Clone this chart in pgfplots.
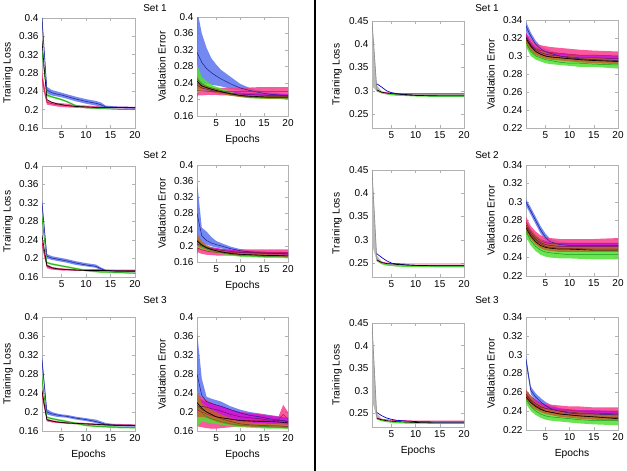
\documentclass[border=0pt]{standalone}
\usepackage{pgfplots}
\pgfplotsset{compat=1.18}
\usepackage{pgfplotstable}
\usepgfplotslibrary{fillbetween}
\usepackage{fontspec}
\setmainfont{Liberation Sans}

\definecolor{cB}{RGB}{90,115,238}\definecolor{cBl}{RGB}{30,30,140}
\definecolor{cG}{RGB}{80,225,50}\definecolor{cGl}{RGB}{30,150,30}
\definecolor{cP}{RGB}{250,60,140}\definecolor{cPl}{RGB}{190,20,60}
\definecolor{cU}{RGB}{200,20,220}\definecolor{cUl}{RGB}{110,10,120}
\definecolor{cR}{RGB}{190,100,40}\definecolor{cRl}{RGB}{110,50,20}

% ---------------- Left: Set 1 training
\pgfplotstableread{
x bm bl bh gm gl gh pm pl ph km
1 0.400 0.390 0.410 0.325 0.318 0.332 0.270 0.255 0.285 0.350
2 0.243 0.236 0.250 0.232 0.229 0.235 0.216 0.211 0.221 0.222
3 0.237 0.231 0.243 0.228 0.226 0.230 0.213 0.209 0.217 0.216
4 0.234 0.229 0.240 0.225 0.223 0.227 0.211 0.207 0.215 0.213
5 0.232 0.227 0.237 0.222 0.220 0.224 0.210 0.206 0.214 0.211
6 0.229 0.224 0.234 0.218 0.216 0.220 0.209 0.205 0.213 0.209
8 0.223 0.218 0.228 0.208 0.206 0.210 0.207 0.204 0.210 0.207
10 0.218 0.213 0.223 0.204 0.203 0.205 0.206 0.203 0.209 0.206
12 0.214 0.209 0.219 0.203 0.202 0.204 0.205 0.203 0.208 0.205
13 0.211 0.206 0.216 0.202 0.201 0.203 0.205 0.203 0.207 0.205
14 0.206 0.203 0.209 0.202 0.201 0.203 0.205 0.203 0.207 0.205
16 0.205 0.203 0.207 0.201 0.200 0.202 0.205 0.203 0.207 0.205
20 0.204 0.202 0.206 0.200 0.199 0.201 0.204 0.202 0.206 0.205
}\LoneT
\pgfplotstableread{
x bm bl bh pm pl ph um ul uh gm gl gh rm rl rh km
1 0.315 0.205 0.420 0.222 0.210 0.245 0.235 0.228 0.242 0.250 0.215 0.285 0.240 0.225 0.255 0.245
2 0.290 0.235 0.360 0.221 0.210 0.235 0.228 0.223 0.233 0.238 0.222 0.255 0.232 0.224 0.240 0.233
3 0.275 0.238 0.325 0.220 0.211 0.230 0.225 0.221 0.229 0.232 0.222 0.245 0.228 0.223 0.233 0.229
4 0.265 0.236 0.300 0.220 0.211 0.229 0.222 0.218 0.226 0.228 0.221 0.236 0.224 0.219 0.229 0.225
5 0.257 0.234 0.285 0.219 0.211 0.228 0.220 0.216 0.224 0.225 0.219 0.231 0.221 0.216 0.226 0.222
6 0.250 0.232 0.272 0.219 0.210 0.228 0.218 0.214 0.222 0.222 0.217 0.227 0.218 0.214 0.222 0.219
8 0.238 0.226 0.255 0.219 0.210 0.228 0.215 0.211 0.219 0.215 0.211 0.219 0.213 0.209 0.217 0.214
10 0.228 0.222 0.238 0.219 0.209 0.229 0.213 0.209 0.217 0.209 0.206 0.212 0.209 0.206 0.212 0.210
12 0.222 0.218 0.228 0.219 0.209 0.229 0.212 0.208 0.216 0.206 0.203 0.209 0.207 0.204 0.210 0.208
14 0.217 0.213 0.222 0.219 0.208 0.230 0.211 0.207 0.215 0.205 0.202 0.208 0.206 0.203 0.209 0.207
16 0.213 0.209 0.218 0.219 0.208 0.230 0.210 0.206 0.214 0.204 0.201 0.207 0.205 0.202 0.208 0.206
18 0.211 0.207 0.215 0.219 0.208 0.230 0.210 0.206 0.214 0.204 0.201 0.207 0.205 0.202 0.208 0.206
20 0.209 0.205 0.213 0.219 0.208 0.230 0.209 0.205 0.213 0.203 0.200 0.206 0.205 0.202 0.208 0.206
}\LoneV
% ---------------- Left: Set 2
\pgfplotstableread{
x bm bl bh gm gl gh pm pl ph km
1 0.320 0.310 0.330 0.290 0.280 0.300 0.235 0.225 0.245 0.250
2 0.205 0.200 0.210 0.191 0.189 0.193 0.183 0.179 0.187 0.185
3 0.201 0.197 0.205 0.188 0.186 0.190 0.179 0.176 0.182 0.180
4 0.199 0.195 0.203 0.186 0.184 0.188 0.177 0.175 0.180 0.178
5 0.197 0.193 0.201 0.184 0.182 0.186 0.176 0.174 0.179 0.177
6 0.195 0.191 0.199 0.182 0.180 0.184 0.176 0.174 0.178 0.176
8 0.190 0.186 0.194 0.178 0.176 0.180 0.175 0.173 0.177 0.175
10 0.186 0.183 0.190 0.174 0.172 0.176 0.175 0.173 0.177 0.174
12 0.183 0.180 0.187 0.172 0.170 0.174 0.175 0.173 0.177 0.174
13 0.178 0.175 0.181 0.171 0.169 0.173 0.175 0.173 0.177 0.174
14 0.174 0.172 0.176 0.171 0.169 0.172 0.174 0.172 0.176 0.174
16 0.173 0.171 0.175 0.170 0.168 0.171 0.174 0.172 0.176 0.173
20 0.172 0.170 0.174 0.168 0.167 0.170 0.174 0.172 0.176 0.173
}\LtwoT
\pgfplotstableread{
x bm bl bh pm pl ph um ul uh gm gl gh rm rl rh km
1 0.280 0.180 0.360 0.195 0.185 0.210 0.205 0.198 0.212 0.210 0.195 0.225 0.215 0.200 0.230 0.212
2 0.225 0.205 0.245 0.190 0.180 0.200 0.200 0.195 0.205 0.200 0.192 0.208 0.203 0.195 0.211 0.202
3 0.213 0.203 0.235 0.187 0.178 0.196 0.196 0.192 0.200 0.193 0.188 0.198 0.196 0.190 0.202 0.195
4 0.207 0.199 0.222 0.185 0.177 0.194 0.193 0.189 0.197 0.189 0.185 0.193 0.191 0.187 0.196 0.191
5 0.203 0.196 0.212 0.184 0.176 0.193 0.191 0.187 0.195 0.185 0.182 0.189 0.188 0.184 0.192 0.188
6 0.200 0.194 0.207 0.184 0.176 0.192 0.189 0.185 0.193 0.183 0.180 0.186 0.186 0.182 0.190 0.185
8 0.193 0.189 0.198 0.183 0.176 0.191 0.186 0.182 0.190 0.179 0.176 0.182 0.182 0.178 0.186 0.181
10 0.188 0.185 0.192 0.183 0.176 0.191 0.184 0.180 0.188 0.176 0.173 0.179 0.179 0.176 0.183 0.179
12 0.185 0.182 0.189 0.183 0.176 0.191 0.183 0.179 0.187 0.175 0.172 0.178 0.178 0.175 0.181 0.178
14 0.183 0.180 0.187 0.183 0.176 0.191 0.182 0.178 0.186 0.174 0.171 0.177 0.177 0.174 0.180 0.177
16 0.182 0.179 0.185 0.183 0.176 0.191 0.181 0.177 0.185 0.173 0.170 0.176 0.176 0.173 0.179 0.176
18 0.181 0.178 0.184 0.183 0.176 0.191 0.181 0.177 0.185 0.173 0.170 0.176 0.176 0.173 0.179 0.176
20 0.180 0.177 0.183 0.183 0.176 0.191 0.180 0.176 0.184 0.172 0.169 0.175 0.175 0.172 0.178 0.175
}\LtwoV
% ---------------- Left: Set 3
\pgfplotstableread{
x bm bl bh gm gl gh pm pl ph km
1 0.310 0.295 0.320 0.270 0.260 0.280 0.240 0.230 0.250 0.245
2 0.200 0.195 0.206 0.189 0.187 0.191 0.183 0.180 0.186 0.184
3 0.196 0.192 0.200 0.186 0.184 0.188 0.181 0.178 0.183 0.181
4 0.194 0.190 0.197 0.184 0.182 0.186 0.179 0.177 0.181 0.179
5 0.192 0.189 0.195 0.182 0.180 0.184 0.178 0.176 0.180 0.178
6 0.191 0.188 0.194 0.180 0.178 0.182 0.177 0.175 0.179 0.177
8 0.187 0.184 0.190 0.176 0.174 0.178 0.176 0.174 0.178 0.176
10 0.184 0.181 0.187 0.172 0.170 0.174 0.175 0.173 0.177 0.175
12 0.180 0.177 0.184 0.170 0.168 0.172 0.174 0.172 0.176 0.174
14 0.174 0.172 0.177 0.169 0.167 0.171 0.173 0.171 0.175 0.173
16 0.172 0.170 0.174 0.168 0.166 0.170 0.173 0.171 0.175 0.172
20 0.171 0.169 0.173 0.167 0.165 0.169 0.172 0.170 0.174 0.172
}\LthreeT
\pgfplotstableread{
x bm bl bh um ul uh pm pl ph gm gl gh rm rl rh km
1 0.280 0.200 0.370 0.210 0.190 0.230 0.205 0.170 0.240 0.210 0.170 0.245 0.215 0.190 0.240 0.220
2 0.235 0.205 0.270 0.212 0.200 0.225 0.200 0.168 0.230 0.198 0.180 0.215 0.205 0.190 0.220 0.208
3 0.222 0.205 0.232 0.210 0.200 0.222 0.196 0.166 0.225 0.190 0.178 0.202 0.200 0.188 0.212 0.200
4 0.218 0.200 0.228 0.207 0.195 0.218 0.192 0.165 0.220 0.186 0.176 0.196 0.195 0.184 0.206 0.195
5 0.215 0.197 0.225 0.205 0.192 0.215 0.190 0.165 0.215 0.183 0.175 0.191 0.190 0.180 0.200 0.190
6 0.212 0.195 0.222 0.202 0.190 0.212 0.188 0.166 0.212 0.180 0.173 0.187 0.186 0.177 0.195 0.188
8 0.205 0.190 0.212 0.195 0.184 0.205 0.185 0.168 0.205 0.175 0.170 0.180 0.180 0.173 0.187 0.185
10 0.198 0.186 0.205 0.190 0.180 0.200 0.183 0.170 0.200 0.172 0.168 0.176 0.175 0.170 0.180 0.182
12 0.193 0.183 0.200 0.188 0.178 0.197 0.182 0.171 0.198 0.171 0.167 0.175 0.173 0.169 0.178 0.181
14 0.190 0.181 0.197 0.186 0.176 0.195 0.182 0.172 0.196 0.170 0.166 0.174 0.172 0.168 0.176 0.180
16 0.186 0.179 0.194 0.183 0.175 0.192 0.183 0.173 0.193 0.169 0.165 0.173 0.171 0.167 0.175 0.180
18 0.183 0.177 0.191 0.182 0.174 0.190 0.184 0.175 0.190 0.168 0.165 0.172 0.171 0.167 0.175 0.179
19 0.182 0.176 0.190 0.181 0.173 0.189 0.195 0.180 0.215 0.168 0.165 0.172 0.170 0.166 0.174 0.178
20 0.180 0.175 0.188 0.180 0.172 0.188 0.185 0.172 0.200 0.168 0.164 0.171 0.170 0.166 0.174 0.177
}\LthreeV
% ---------------- Right: training
\pgfplotstableread{
x ym yl yh bm pm gm km
1 0.450 0.310 0.455 nan nan nan nan
2 0.302 0.299 0.312 0.315 0.300 0.300 0.302
3 0.296 0.294 0.299 0.308 0.297 0.296 0.297
4 0.294 0.292 0.296 0.300 0.296 0.294 0.295
5 0.292 0.291 0.294 0.296 0.295 0.292 0.294
6 0.291 0.290 0.293 0.294 0.294 0.291 0.293
8 0.290 0.289 0.292 0.291 0.294 0.290 0.292
10 0.290 0.289 0.291 0.290 0.294 0.289 0.291
15 0.289 0.288 0.290 0.289 0.294 0.288 0.291
20 0.289 0.288 0.290 0.289 0.294 0.288 0.291
}\RoneT
\pgfplotstableread{
x ym yl yh bm pm gm km
1 0.450 0.290 0.455 nan nan nan nan
2 0.257 0.254 0.266 0.270 0.256 0.255 0.257
3 0.250 0.248 0.253 0.262 0.252 0.249 0.251
4 0.247 0.245 0.249 0.255 0.250 0.246 0.249
5 0.245 0.244 0.247 0.250 0.249 0.245 0.248
6 0.244 0.243 0.246 0.248 0.249 0.244 0.247
8 0.244 0.243 0.245 0.246 0.248 0.243 0.246
10 0.243 0.242 0.244 0.245 0.248 0.243 0.245
15 0.243 0.242 0.244 0.244 0.248 0.242 0.245
20 0.243 0.242 0.244 0.244 0.248 0.242 0.245
}\RtwoT
\pgfplotstableread{
x ym yl yh bm pm gm km
1 0.450 0.280 0.455 nan nan nan nan
2 0.240 0.238 0.250 0.252 0.240 0.238 0.239
3 0.236 0.234 0.238 0.245 0.237 0.234 0.236
4 0.233 0.232 0.235 0.240 0.236 0.232 0.234
5 0.232 0.230 0.233 0.237 0.235 0.231 0.233
6 0.231 0.229 0.232 0.235 0.234 0.230 0.232
8 0.230 0.228 0.231 0.233 0.234 0.229 0.231
10 0.229 0.228 0.230 0.232 0.233 0.229 0.230
15 0.229 0.228 0.230 0.231 0.233 0.228 0.229
20 0.229 0.228 0.230 0.231 0.233 0.228 0.229
}\RthreeT
% ---------------- Right: validation
\pgfplotstableread{
x bm bl bh pm pl ph um ul uh gm gl gh rm rl rh km
1 0.333 0.328 0.338 0.318 0.310 0.326 0.322 0.318 0.326 0.315 0.310 0.319 0.318 0.314 0.322 0.320
2 0.322 0.318 0.326 0.312 0.305 0.319 0.313 0.310 0.316 0.305 0.300 0.310 0.310 0.306 0.314 0.311
3 0.313 0.310 0.317 0.308 0.302 0.314 0.307 0.304 0.310 0.300 0.296 0.305 0.305 0.301 0.309 0.305
4 0.308 0.305 0.311 0.306 0.301 0.312 0.304 0.301 0.307 0.298 0.294 0.302 0.302 0.299 0.306 0.302
5 0.305 0.302 0.308 0.305 0.300 0.311 0.302 0.299 0.305 0.296 0.292 0.300 0.300 0.297 0.304 0.300
6 0.303 0.300 0.306 0.304 0.299 0.310 0.301 0.298 0.304 0.295 0.291 0.299 0.299 0.296 0.302 0.299
8 0.300 0.297 0.303 0.303 0.298 0.309 0.300 0.297 0.303 0.293 0.290 0.297 0.298 0.295 0.301 0.298
10 0.298 0.296 0.301 0.302 0.297 0.308 0.299 0.296 0.302 0.292 0.289 0.296 0.297 0.294 0.300 0.297
12 0.297 0.295 0.300 0.301 0.297 0.307 0.298 0.295 0.301 0.292 0.288 0.296 0.296 0.293 0.299 0.296
15 0.296 0.294 0.299 0.301 0.296 0.306 0.298 0.295 0.301 0.291 0.288 0.295 0.295 0.292 0.298 0.295
20 0.295 0.293 0.298 0.300 0.296 0.305 0.297 0.294 0.300 0.290 0.286 0.295 0.294 0.291 0.297 0.294
}\RoneV
\pgfplotstableread{
x bm bl bh pm pl ph um ul uh gm gl gh rm rl rh km
1 0.300 0.296 0.303 0.278 0.272 0.284 0.275 0.270 0.280 0.268 0.262 0.274 0.274 0.268 0.279 0.272
2 0.290 0.286 0.294 0.268 0.262 0.274 0.266 0.262 0.270 0.258 0.253 0.263 0.265 0.260 0.270 0.263
3 0.280 0.276 0.284 0.262 0.256 0.268 0.260 0.256 0.264 0.252 0.247 0.257 0.259 0.254 0.264 0.257
4 0.270 0.266 0.274 0.258 0.252 0.264 0.256 0.252 0.260 0.248 0.243 0.253 0.255 0.250 0.260 0.253
5 0.262 0.259 0.266 0.256 0.251 0.262 0.254 0.250 0.258 0.246 0.241 0.251 0.252 0.248 0.256 0.251
6 0.257 0.254 0.260 0.255 0.250 0.261 0.253 0.250 0.256 0.245 0.240 0.250 0.251 0.247 0.255 0.250
8 0.254 0.252 0.257 0.255 0.250 0.260 0.252 0.249 0.255 0.244 0.239 0.249 0.250 0.246 0.254 0.249
10 0.253 0.251 0.256 0.255 0.250 0.260 0.252 0.249 0.255 0.243 0.239 0.248 0.250 0.246 0.253 0.249
15 0.253 0.251 0.256 0.255 0.250 0.260 0.252 0.249 0.255 0.243 0.238 0.248 0.249 0.246 0.253 0.248
20 0.253 0.251 0.256 0.255 0.250 0.261 0.252 0.249 0.255 0.243 0.238 0.248 0.249 0.246 0.253 0.248
}\RtwoV
\pgfplotstableread{
x bm bl bh pm pl ph um ul uh gm gl gh rm rl rh km
1 0.295 0.290 0.299 0.256 0.250 0.262 0.258 0.254 0.262 0.253 0.248 0.258 0.258 0.253 0.263 0.255
2 0.262 0.258 0.266 0.250 0.244 0.256 0.252 0.248 0.256 0.245 0.240 0.250 0.251 0.246 0.256 0.249
3 0.255 0.251 0.259 0.246 0.241 0.252 0.248 0.244 0.252 0.240 0.236 0.245 0.246 0.242 0.250 0.245
4 0.250 0.246 0.254 0.244 0.239 0.249 0.245 0.241 0.249 0.237 0.233 0.242 0.243 0.239 0.247 0.242
5 0.246 0.243 0.250 0.243 0.238 0.248 0.243 0.240 0.247 0.235 0.231 0.240 0.240 0.237 0.244 0.240
6 0.243 0.240 0.247 0.242 0.238 0.247 0.242 0.239 0.245 0.234 0.230 0.238 0.239 0.236 0.243 0.239
8 0.240 0.237 0.243 0.241 0.237 0.246 0.240 0.237 0.243 0.233 0.229 0.237 0.237 0.234 0.241 0.237
10 0.238 0.236 0.241 0.241 0.237 0.245 0.239 0.236 0.242 0.232 0.228 0.236 0.236 0.233 0.240 0.236
12 0.237 0.235 0.240 0.240 0.237 0.245 0.238 0.235 0.241 0.231 0.227 0.235 0.235 0.232 0.239 0.235
15 0.237 0.234 0.240 0.240 0.236 0.244 0.238 0.235 0.241 0.230 0.226 0.235 0.234 0.231 0.238 0.234
20 0.236 0.233 0.239 0.240 0.236 0.244 0.237 0.234 0.240 0.230 0.225 0.234 0.233 0.230 0.237 0.232
}\RthreeV

% band macro: #1 table, #2 column prefix, #3 fill colour, #4 line colour, #5 unique id
\newcommand{\band}[5]{%
  \addplot[draw=none, name path=#5h] table[x=x,y=#2h]{#1};
  \addplot[draw=none, name path=#5l] table[x=x,y=#2l]{#1};
  \addplot[fill=#3, draw=none, fill opacity=0.85] fill between[of=#5h and #5l];
  \addplot[#4, line width=0.5pt] table[x=x,y=#2m]{#1};
}
\newcommand{\trainL}[2]{% left training
  \band{#1}{p}{cP}{cPl}{#2p}
  \band{#1}{g}{cG}{cGl}{#2g}
  \band{#1}{b}{cB}{cBl}{#2b}
  \addplot[black, line width=0.6pt] table[x=x,y=km]{#1};
}
\newcommand{\validL}[2]{% validation (blue at back)
  \band{#1}{b}{cB}{cBl}{#2b}
  \band{#1}{p}{cP}{cPl}{#2p}
  \band{#1}{u}{cU}{cUl}{#2u}
  \band{#1}{g}{cG}{cGl}{#2g}
  \band{#1}{r}{cR}{cRl}{#2r}
  \addplot[black, line width=0.6pt] table[x=x,y=km]{#1};
}
\newcommand{\trainR}[2]{% right training
  \addplot[draw=none, name path=#2h] table[x=x,y=yh]{#1};
  \addplot[draw=none, name path=#2l] table[x=x,y=yl]{#1};
  \addplot[fill=gray!55, draw=none] fill between[of=#2h and #2l];
  \addplot[gray!90, line width=0.6pt] table[x=x,y=ym]{#1};
  \addplot[cG, line width=1.2pt] table[x=x,y=gm]{#1};
  \addplot[cP, line width=0.9pt] table[x=x,y=pm]{#1};
  \addplot[blue!80!black, line width=0.7pt] table[x=x,y=bm]{#1};
  \addplot[black, line width=0.6pt] table[x=x,y=km]{#1};
}

\pgfplotsset{
  base/.style={scale only axis, anchor=north west, xmin=1, xmax=20,
    xtick={5,10,15,20}, tick align=inside,
    axis line style={gray!60, line width=0.5pt},
    major tick style={gray!60, line width=0.5pt}, major tick length=3pt,
    tick label style={font=\fontsize{10}{11}\selectfont, black},
    label style={font=\fontsize{10.3}{12}\selectfont},
    /pgf/number format/assume math mode=true,
    scaled y ticks=false, clip=true,
    ylabel style={at={(axis description cs:-0.38,0.5)}, anchor=center},
    xlabel style={yshift=-2pt}},
  lft/.style={base, ymin=0.16, ymax=0.4, ytick={0.16,0.2,0.24,0.28,0.32,0.36,0.4}},
  rtt/.style={base, ymin=0.22, ymax=0.45, ytick={0.25,0.3,0.35,0.4,0.45}, ylabel={Training Loss}},
  rtv/.style={base, ymin=0.22, ymax=0.34, ytick={0.22,0.24,0.26,0.28,0.3,0.32,0.34}, ylabel={Validation Error}},
}

\begin{document}
\begin{tikzpicture}
\draw[line width=1.2pt] (315pt,0pt) -- (315pt,-471pt);
\node[font=\fontsize{10}{12}\selectfont] at (155pt,-8pt) {Set 1};
\node[font=\fontsize{10}{12}\selectfont] at (487pt,-8pt) {Set 1};
\node[font=\fontsize{10}{12}\selectfont] at (155pt,-155pt) {Set 2};
\node[font=\fontsize{10}{12}\selectfont] at (487pt,-155pt) {Set 2};
\node[font=\fontsize{10}{12}\selectfont] at (155pt,-300pt) {Set 3};
\node[font=\fontsize{10}{12}\selectfont] at (487pt,-300pt) {Set 3};

% ----- Left column A (training) and B (validation)
\begin{axis}[lft, at={(42pt,-18pt)}, width=93pt, height=110pt, ylabel={Training Loss}, ylabel style={at={(axis description cs:-0.366,0.5)}}]
\trainL{\LoneT}{aa}
\end{axis}
\begin{axis}[lft, at={(197pt,-17pt)}, width=91pt, height=99pt, ylabel={Validation Error}, xlabel={Epochs}, ylabel style={at={(axis description cs:-0.385,0.5)}}]
\validL{\LoneV}{ab}
\end{axis}
\begin{axis}[lft, at={(42pt,-166pt)}, width=93pt, height=111pt, ylabel={Training Loss}, ylabel style={at={(axis description cs:-0.366,0.5)}}]
\trainL{\LtwoT}{ba}
\end{axis}
\begin{axis}[lft, at={(197pt,-165pt)}, width=91pt, height=97pt, ylabel={Validation Error}, xlabel={Epochs}, ylabel style={at={(axis description cs:-0.385,0.5)}}]
\validL{\LtwoV}{bb}
\end{axis}
\begin{axis}[lft, at={(42pt,-317pt)}, width=93pt, height=114pt, ylabel={Training Loss}, xlabel={Epochs}, ylabel style={at={(axis description cs:-0.366,0.5)}}]
\trainL{\LthreeT}{ca}
\end{axis}
\begin{axis}[lft, at={(197pt,-317pt)}, width=91pt, height=114pt, ylabel={Validation Error}, xlabel={Epochs}, ylabel style={at={(axis description cs:-0.385,0.5)}}]
\validL{\LthreeV}{cb}
\end{axis}

% ----- Right side
\begin{axis}[rtt, at={(372pt,-21pt)}, width=92pt, height=107pt]
\trainR{\RoneT}{da}
\end{axis}
\begin{axis}[rtv, at={(526pt,-20pt)}, width=92pt, height=108pt]
\validL{\RoneV}{db}
\end{axis}
\begin{axis}[rtt, at={(372pt,-170pt)}, width=92pt, height=107pt]
\trainR{\RtwoT}{ea}
\end{axis}
\begin{axis}[rtv, at={(526pt,-165pt)}, width=92pt, height=111pt]
\validL{\RtwoV}{eb}
\end{axis}
\begin{axis}[rtt, at={(372pt,-323pt)}, width=92pt, height=104pt, xlabel={Epochs}]
\trainR{\RthreeT}{fa}
\end{axis}
\begin{axis}[rtv, at={(526pt,-317pt)}, width=92pt, height=113pt, xlabel={Epochs}]
\validL{\RthreeV}{fb}
\end{axis}
\pgfresetboundingbox
\path[use as bounding box] (0pt,0pt) rectangle (627pt,-471pt);
\end{tikzpicture}
\end{document}
